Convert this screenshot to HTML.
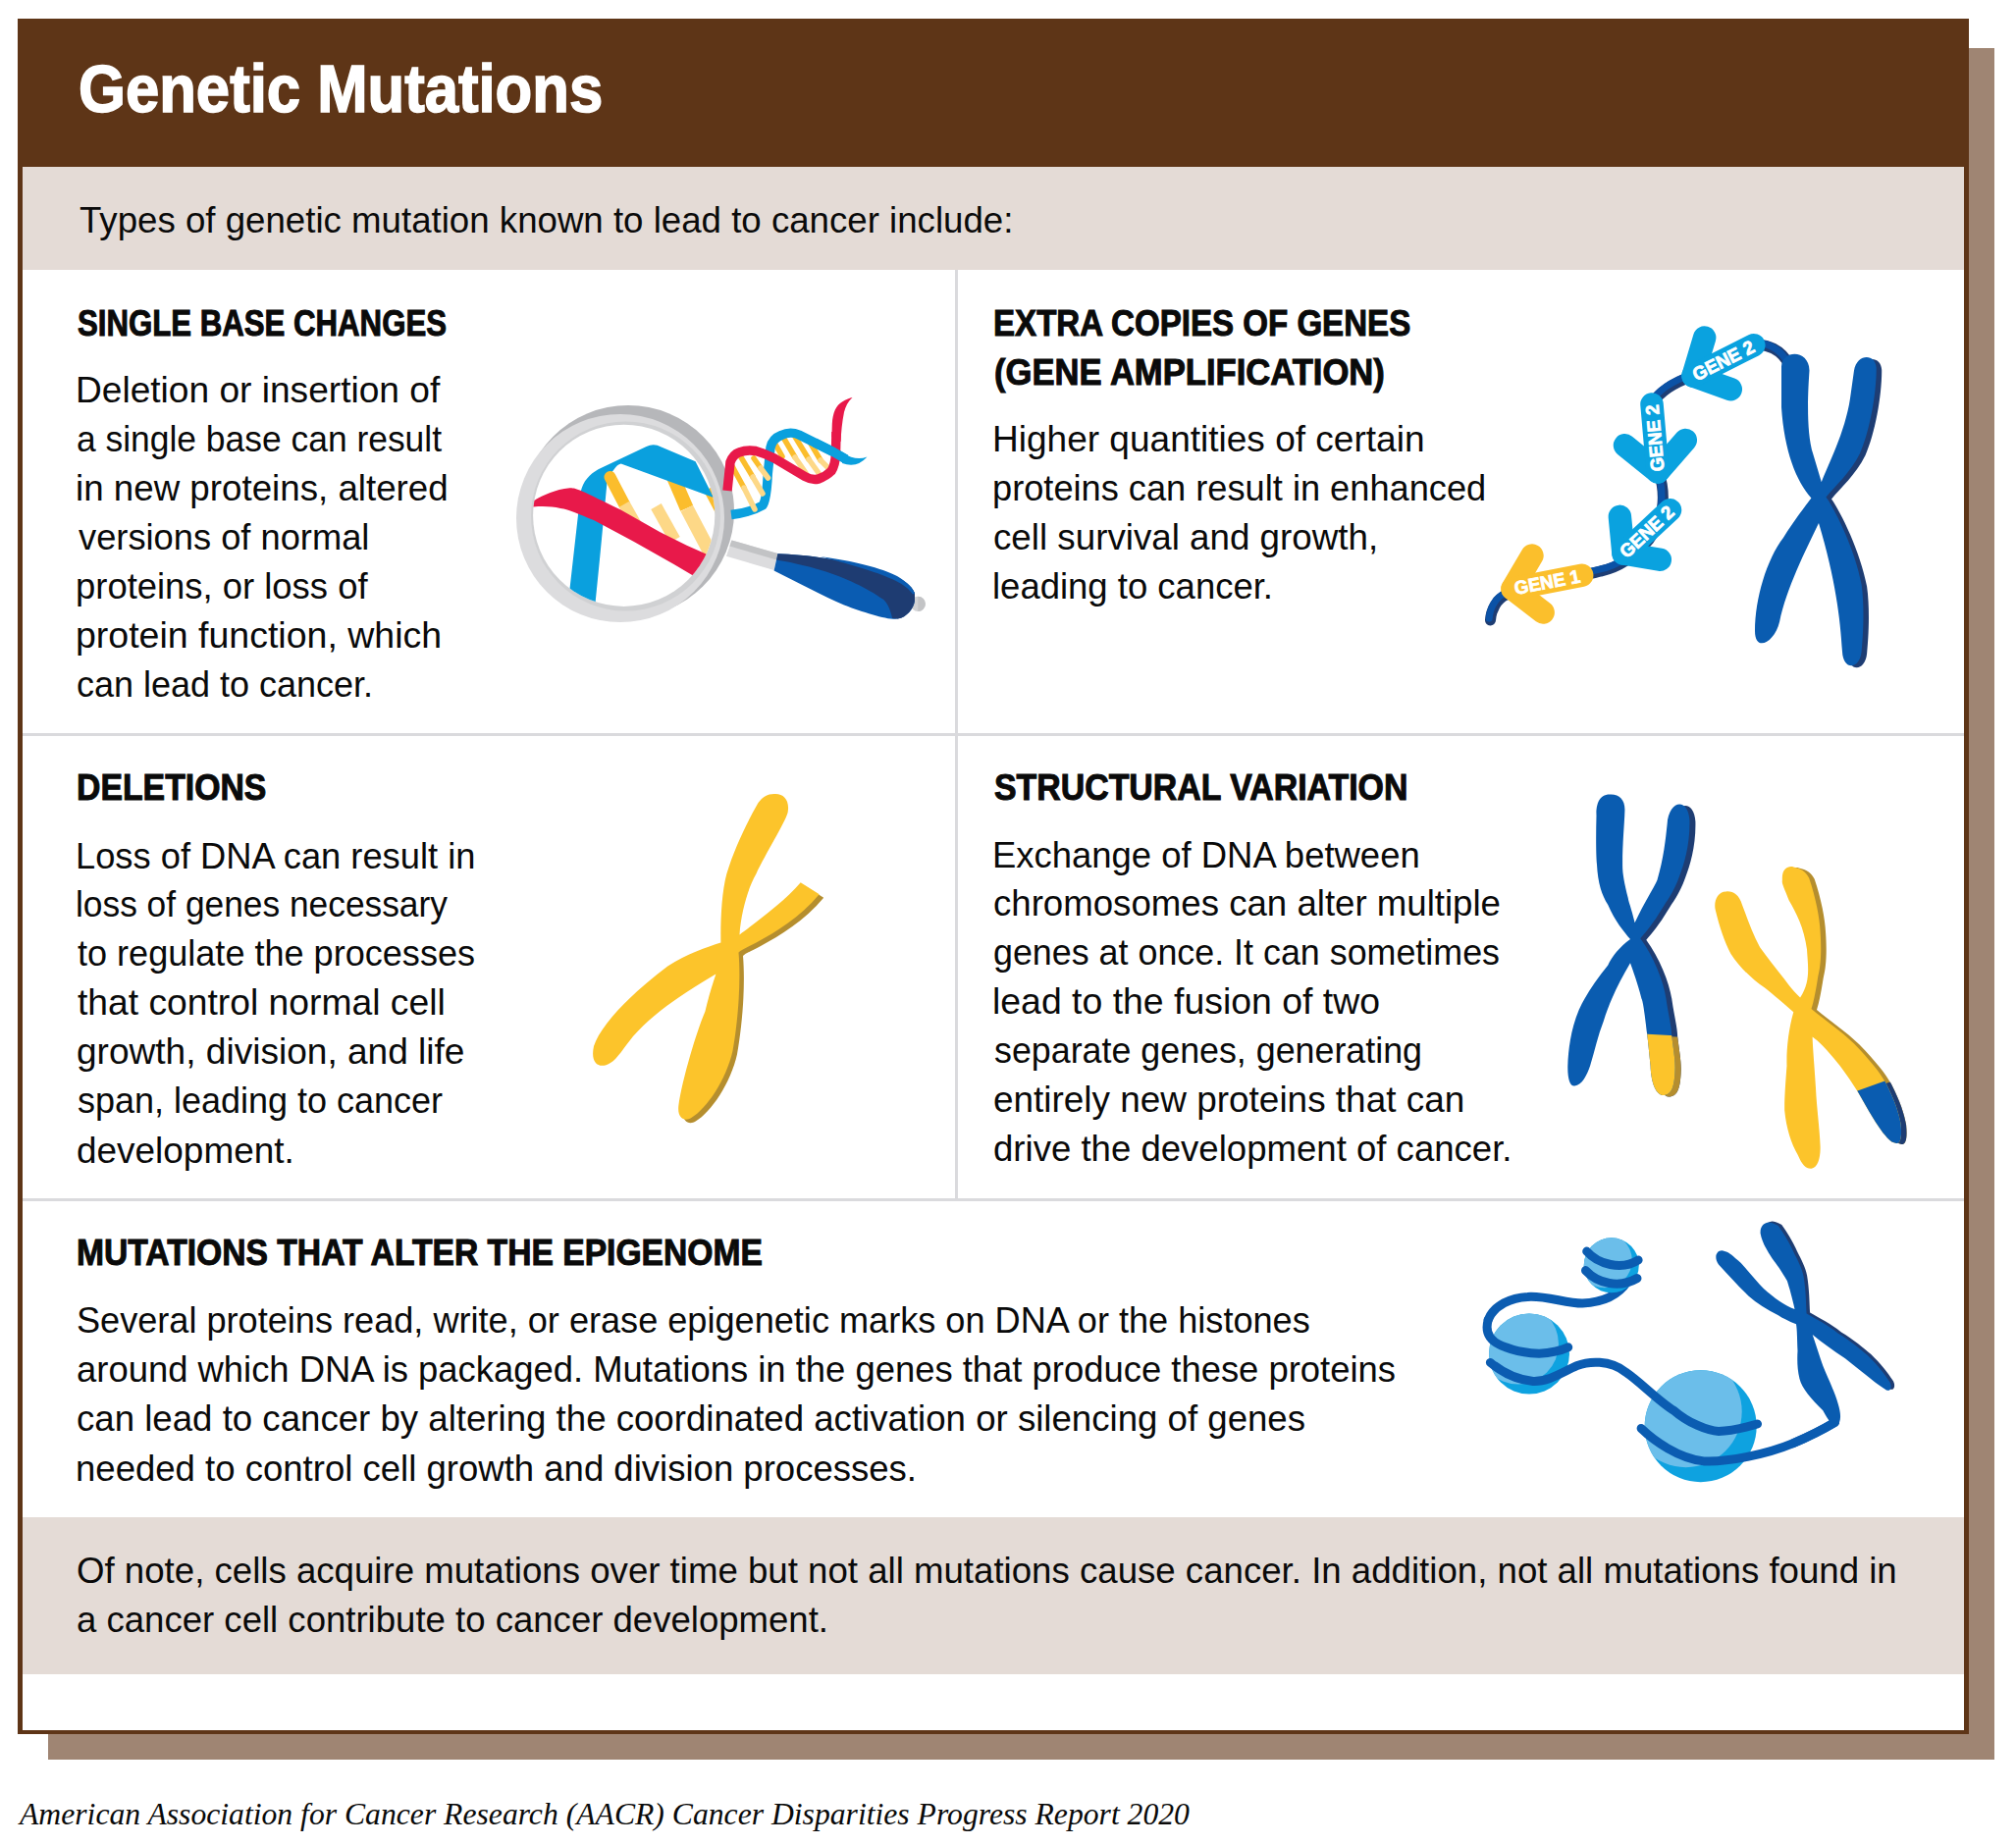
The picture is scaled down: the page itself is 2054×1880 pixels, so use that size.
<!DOCTYPE html>
<html><head><meta charset="utf-8"><title>Genetic Mutations</title>
<style>
html,body{margin:0;padding:0;background:#fff;}
body{width:2054px;height:1880px;position:relative;overflow:hidden;}
.r{position:absolute;}
.t{position:absolute;white-space:pre;transform-origin:0 0;}
.title{font-family:"Liberation Sans",sans-serif;font-size:69px;line-height:69px;font-weight:700;color:#fff;-webkit-text-stroke:1.6px #fff;}
.head{font-family:"Liberation Sans",sans-serif;font-size:37.5px;line-height:37.5px;font-weight:700;color:#0a0a0a;-webkit-text-stroke:1.0px #0a0a0a;}
.body{font-family:"Liberation Sans",sans-serif;font-size:37px;line-height:37px;font-weight:400;color:#0a0a0a;}
.cap{font-family:"Liberation Serif",serif;font-size:31.5px;line-height:31.5px;font-style:italic;color:#0a0a0a;}
svg{position:absolute;overflow:visible;}
</style></head><body>
<div class="r" style="left:49px;top:49px;width:1983px;height:1744px;background:#9f8573"></div>
<div class="r" style="left:18px;top:19px;width:1988px;height:1748px;background:#5e3517"></div>
<div class="r" style="left:23px;top:170px;width:1978px;height:1593px;background:#fff"></div>
<div class="r" style="left:23px;top:170px;width:1978px;height:105px;background:#e4dbd6"></div>
<div class="r" style="left:23px;top:1546px;width:1978px;height:160px;background:#e4dbd6"></div>
<div class="r" style="left:973px;top:275px;width:3px;height:948px;background:#dadadd"></div>
<div class="r" style="left:23px;top:747px;width:1978px;height:3px;background:#dadadd"></div>
<div class="r" style="left:23px;top:1221px;width:1978px;height:3px;background:#dadadd"></div>
<svg style="left:500px;top:380px" width="460" height="280" viewBox="500 380 460 280">
<defs><clipPath id="inner"><circle cx="635.7" cy="525.3" r="92.6"/></clipPath></defs>
<path d="M745.5 550.4 L792.4 564 L788.6 580.9 L740 566.7 Z" fill="#dcdcde"/>
<path d="M745.5 550.4 L792.4 564 L791.3 570.6 L743.3 556.4 Z" fill="#c2c3c5"/>
<circle cx="935.3" cy="615.3" r="7.6" fill="#d2d3d5"/>
<path d="M935.3 607.7 A7.6 7.6 0 0 1 935.3 622.9 Z" fill="#c3c4c6"/>
<path d="M792.4 564.2 C820 565 860 570 898.2 581.5 C915 587 930 596 932 605 L932 612 C931 620 924 629 914.6 630.6 C905 632 880 624 860 616.4 C840 608 810 592 788.6 581.5 Z" fill="#0a5cb2"/>
<path d="M792.4 564.2 C820 565 860 570 898.2 581.5 C915 587 930 596 932 605 L932 612 C931 620 924 629 914.6 630.6 L909.1 630 C907 620 903 612 898.2 609.8 C885 600 860 588 838.2 581.5 C820 576 800 572 791.3 570.6 Z" fill="#1e3c72"/>
<path d="M836 567.3 C870 571.5 898 579 914 587 C924 593 930 599 932 605 L930 605.5 C926 600 921 596 912 591.5 C896 584 872 576.5 836 567.3 Z" fill="#0a5cb2"/>
<circle cx="640" cy="521" r="108" fill="#b6b7ba"/>
<circle cx="632" cy="528" r="106" fill="#dcdcde"/>
<circle cx="637.5" cy="526" r="96.5" fill="#d0d1d3"/>
<circle cx="635.7" cy="525.3" r="92.6" fill="#fff"/>
<g clip-path="url(#inner)">
 <path d="M679 470 L699.7 517.9" stroke="#fbbd2c" stroke-width="14"/>
 <path d="M722 498 L738 528" stroke="#fbbd2c" stroke-width="11"/>
 <path d="M576 640 L591.6 501.4 C594 490 601 483 609.5 478.2 L658.6 455 Q666 451.5 673.75 455.4 L708.6 470.2 L745 543 L745 513.5 L632.7 472.4 Q628.5 473.5 626.4 477.3 Q620 485 618.4 492.5 L611 570 L604 640 Z" fill="#0aa0de"/>
 <path d="M621.5 486 L636 513.8" stroke="#fbbd2c" stroke-width="12" stroke-linecap="round"/>
 <path d="M636 513.8 L648 535" stroke="#fdd887" stroke-width="12"/>
 <path d="M668.5 516 L687.5 550" stroke="#fdd887" stroke-width="12"/>
 <path d="M699.7 517.9 L725 566" stroke="#fdd887" stroke-width="14"/>
 <path d="M530 512 L544.5 509.8 C555 504 565 499 580.5 497.3 C588 497 594 501 632 519.2 L672.6 542.3 L699.7 555.8 L725 567 L712 590 L686.2 574.8 L645.5 551.8 L604.9 530 C590 524 580 519 571 517.9 C560 516 552 515 530 518 Z" fill="#e8194a"/>
</g>
<g>
 <path d="M789 451 L797 465" stroke="#fbbd2c" stroke-width="5.5" stroke-linecap="round"/>
 <path d="M796.5 443 L810 466" stroke="#fbbd2c" stroke-width="5.5" stroke-linecap="round"/>
 <path d="M810 466 L821 482" stroke="#fdd887" stroke-width="5.5" stroke-linecap="round"/>
 <path d="M810 445 L824 468" stroke="#fbbd2c" stroke-width="5.5" stroke-linecap="round"/>
 <path d="M824 468 L834 482" stroke="#fdd887" stroke-width="5.5" stroke-linecap="round"/>
 <path d="M826 452 L836 469" stroke="#fbbd2c" stroke-width="5.5" stroke-linecap="round"/>
 <path d="M836 469 L844 477" stroke="#fdd887" stroke-width="5.5" stroke-linecap="round"/>
 <path d="M745 524.5 Q765 522 777 515 Q781 510 782.3 482.7 L785 456 Q787 447 796 443.5 Q805 439 814 443 L848 460 Q855 464 862 468" fill="none" stroke="#0aa0de" stroke-width="9.4" stroke-linejoin="round"/>
 <path d="M746 475 L758 497" stroke="#fbbd2c" stroke-width="5.5" stroke-linecap="round"/>
 <path d="M758 497 L769 519" stroke="#fdd887" stroke-width="5.5" stroke-linecap="round"/>
 <path d="M755 466 L767 486" stroke="#fbbd2c" stroke-width="5.5" stroke-linecap="round"/>
 <path d="M767 486 L777 503" stroke="#fdd887" stroke-width="5.5" stroke-linecap="round"/>
 <path d="M768 467 L775 477" stroke="#fbbd2c" stroke-width="5.5" stroke-linecap="round"/>
 <path d="M775 477 L782.5 487" stroke="#fdd887" stroke-width="5.5" stroke-linecap="round"/>
 <path d="M741 500 L744 471 Q747 463 753 461 Q761 458 770 459.5 Q779 462 789 467 L820 485.5 Q827 489.5 834 488 Q842 485 847 480 Q851 474 851.5 462 L852 440" fill="none" stroke="#e8194a" stroke-width="9.5" stroke-linejoin="round"/>
 <path d="M847.4 445 L847.8 432 C848.5 420 852 413 858 409.5 C862 407 866 405.5 868.5 405 C864 409 861.5 414 860 420 C858 430 857 440 856.6 450 Z" fill="#e8194a"/>
 <path d="M830 451 L848 460 Q855 464 862 468" fill="none" stroke="#0aa0de" stroke-width="9.4"/>
 <path d="M859 461.8 Q872 470 883.5 465.5 Q873 477.5 858 471.9 Z" fill="#0aa0de"/>
</g>
</svg>

<svg style="left:1500px;top:320px" width="440" height="370" viewBox="1500 320 440 370"><path d="M1518.5 632 C1519 622 1525 610 1535 606 C1555 598 1600 590 1631 582 C1650 578 1665 568 1680 550 C1695 530 1698 505 1690 481 M1683 412 C1690 400 1705 390 1725 383 M1786.8 351.7 C1800 350 1815 356 1823 372" fill="none" stroke="#1e3d73" stroke-width="11" stroke-linecap="round"/><path d="M1518.5 632 C1519 622 1525 610 1535 606 C1555 598 1600 590 1631 582 C1650 578 1665 568 1680 550 C1695 530 1698 505 1690 481 M1683 412 C1690 400 1705 390 1725 383 M1786.8 351.7 C1800 350 1815 356 1823 372" fill="none" stroke="#0b52a6" stroke-width="7" stroke-linecap="round" transform="translate(-1.3 -1.8)"/><path d="M1855.8 491.2 C1862 475 1880 440 1885 406 L1889 377.4 C1892 360 1911 360 1911.7 375 C1912 400 1905 440 1895 462 C1885 482 1870 495 1860.5 506.4 C1870 520 1890 560 1896.6 595.6 C1900 620 1898 650 1896.6 664 C1895 682 1878 684 1877 664 C1875 630 1870 590 1853 533 L1845.4 507.4 Z" fill="#1e3d73" transform="translate(5.5 2)"/><path d="M1815 373.6 C1816 356 1843 356 1843.5 377.4 C1842 400 1840 440 1847.3 462.8 L1855.8 491.2 C1862 475 1880 440 1885 406 L1889 377.4 C1892 360 1911 360 1911.7 375 C1912 400 1905 440 1895 462 C1885 482 1870 495 1860.5 506.4 C1870 520 1890 560 1896.6 595.6 C1900 620 1898 650 1896.6 664 C1895 682 1878 684 1877 664 C1875 630 1870 590 1853 533 C1840 560 1820 600 1813.1 633.5 C1808 655 1788 665 1788 643 C1788 610 1800 570 1816.9 548 C1828 530 1840 515 1845.4 507.4 C1830 490 1818 460 1815 415 Z" fill="#0a5cb0"/><g transform="translate(1541 600) rotate(-10.97)"><path d="M26 -29.5 L0 0 L26 29.5" fill="none" stroke="#fbbf2c" stroke-width="23.5" stroke-linecap="round" stroke-linejoin="round"/><path d="M0 0 L72.0 0" stroke="#fbbf2c" stroke-width="23.5" stroke-linecap="round"/><text x="2.0" y="6.6" textLength="68" lengthAdjust="spacingAndGlyphs" font-family="Liberation Sans" font-weight="700" font-size="19" fill="#fff" stroke="#fff" stroke-width="0.8">GENE 1</text></g><g transform="translate(1654 564) rotate(-43.00)"><path d="M23 -30 L0 0 L23 30" fill="none" stroke="#0aa2df" stroke-width="23.5" stroke-linecap="round" stroke-linejoin="round"/><path d="M0 0 L65.0 0" stroke="#0aa2df" stroke-width="23.5" stroke-linecap="round"/><text x="-1.5" y="6.6" textLength="68" lengthAdjust="spacingAndGlyphs" font-family="Liberation Sans" font-weight="700" font-size="19" fill="#fff" stroke="#fff" stroke-width="0.8">GENE 2</text></g><g transform="translate(1689 481) rotate(-94.97)"><path d="M30 -31 L0 0 L30 31" fill="none" stroke="#0aa2df" stroke-width="23.5" stroke-linecap="round" stroke-linejoin="round"/><path d="M0 0 L69.3 0" stroke="#0aa2df" stroke-width="23.5" stroke-linecap="round"/><text x="0.6" y="6.6" textLength="68" lengthAdjust="spacingAndGlyphs" font-family="Liberation Sans" font-weight="700" font-size="19" fill="#fff" stroke="#fff" stroke-width="0.8">GENE 2</text></g><g transform="translate(1725 383) rotate(-26.86)"><path d="M28 -29.5 L0 0 L28 29.5" fill="none" stroke="#0aa2df" stroke-width="23.5" stroke-linecap="round" stroke-linejoin="round"/><path d="M0 0 L69.3 0" stroke="#0aa2df" stroke-width="23.5" stroke-linecap="round"/><text x="0.6" y="6.6" textLength="68" lengthAdjust="spacingAndGlyphs" font-family="Liberation Sans" font-weight="700" font-size="19" fill="#fff" stroke="#fff" stroke-width="0.8">GENE 2</text></g></svg>
<svg style="left:580px;top:790px" width="280" height="370" viewBox="580 790 280 370">
<path d="M753.5 952.5 C770 940 800 918 815.7 899.3 L834.7 911.3 C815 935 790 950 770.5 960.5 C762 965 755 968 752.5 970.5 C755 1000 752 1040 746.5 1070.8 C740 1100 720 1130 704.3 1139 C698 1143 690 1140 691.3 1127 C695 1100 710 1050 718.4 1030.7 C722 1015 727 1000 729.4 992.6 L734.4 960.5 Z" fill="#b58e2e" transform="translate(4.5 3.5)"/>
<path d="M788.6 809 C798 808 805 815 802.6 828 C800 838 780 870 770.5 890.3 C762 905 755 930 753.5 952.5 C770 940 800 918 815.7 899.3 L834.7 911.3 C815 935 790 950 770.5 960.5 C762 965 755 968 752.5 970.5 C755 1000 752 1040 746.5 1070.8 C740 1100 720 1130 704.3 1139 C698 1143 690 1140 691.3 1127 C695 1100 710 1050 718.4 1030.7 C722 1015 727 1000 729.4 992.6 C700 1010 668 1030 645 1056 C636 1067 629 1079 622 1083 C611 1090 601 1084 605 1066 C612 1045 640 1015 680.3 984.5 C700 972 720 965 734.4 960.5 C734 940 735 910 740.4 890.3 C748 865 760 840 772.5 818 C777 812 782 809 788.6 809 Z" fill="#fcc42b"/>
</svg>

<svg style="left:1570px;top:790px" width="390" height="420" viewBox="1570 790 390 420">
<defs>
<clipPath id="svTipB"><path d="M1665 1053 L1720 1056 L1720 1130 L1665 1130 Z"/></clipPath>
<clipPath id="svTipY"><path d="M1880 1116 L1930 1098 L1990 1200 L1880 1200 Z"/></clipPath>
</defs>
<!-- blue chromosome -->
<g>
<path id="bR" d="M1665.6 940.3 C1675 920 1685 905 1688.4 897 C1695 875 1697 855 1698.6 840 C1700 815 1720 812 1721.4 835.5 C1722 860 1716 880 1711.2 892.5 C1705 910 1698 918 1693 926.6 C1685 940 1677 950 1671.3 956.2 C1685 975 1695 1000 1697.5 1017.7 C1700 1035 1703 1045 1703.2 1055.3 C1705 1070 1707 1080 1706.6 1090 C1706 1110 1702 1116 1694 1116 C1686 1115 1682 1100 1681.6 1086 C1680 1070 1679 1060 1678.2 1054 C1676 1035 1674 1020 1672.5 1017.7 C1668 1000 1664 990 1661 981.3 L1661 957 Z" fill="#1e3d73" transform="translate(6 1.5)"/>
<path d="M1665.6 940.3 C1675 920 1685 905 1688.4 897 C1695 875 1697 855 1698.6 840 C1700 815 1720 812 1721.4 835.5 C1722 860 1716 880 1711.2 892.5 C1705 910 1698 918 1693 926.6 C1685 940 1677 950 1671.3 956.2 C1685 975 1695 1000 1697.5 1017.7 C1700 1035 1703 1045 1703.2 1055.3 C1705 1070 1707 1080 1706.6 1090 C1706 1110 1702 1116 1694 1116 C1686 1115 1682 1100 1681.6 1086 C1680 1070 1679 1060 1678.2 1054 C1676 1035 1674 1020 1672.5 1017.7 C1668 1000 1664 990 1661 981.3 L1661 957 Z" fill="#b58e2e" transform="translate(6 1.5)" clip-path="url(#svTipB)"/>
<path d="M1640.6 809.4 C1628 809 1626 822 1626.5 831 C1626 850 1626 870 1627 881 C1628 900 1632 912 1638.3 922 C1645 938 1655 950 1661 957 C1650 965 1642 975 1638.3 983.5 C1625 1000 1615 1015 1608.7 1029 C1600 1050 1598 1070 1597.3 1086 C1597 1100 1600 1107 1604.2 1106.5 C1612 1106 1617 1095 1620.1 1086 C1625 1070 1628 1055 1633.8 1040.5 C1640 1020 1650 1000 1661 981.3 C1664 990 1668 1000 1672.5 1017.7 C1674 1020 1676 1035 1678.2 1054 C1679 1060 1680 1070 1681.6 1086 C1682 1100 1686 1115 1694 1116 C1702 1116 1706 1110 1706.6 1090 C1707 1080 1705 1070 1703.2 1055.3 C1703 1045 1700 1035 1697.5 1017.7 C1695 1000 1685 975 1671.3 956.2 C1677 950 1685 940 1693 926.6 C1698 918 1705 910 1711.2 892.5 C1716 880 1722 860 1721.4 835.5 C1720 812 1700 815 1698.6 840 C1697 855 1695 875 1688.4 897 C1685 905 1675 920 1665.6 940.3 C1662 925 1659 918 1658.8 915.2 C1655 900 1653 890 1653.1 881 C1653 860 1655 840 1655.4 826.4 C1656 815 1650 809 1640.6 809.4 Z" fill="#0a5cb0"/>
<path d="M1640.6 809.4 C1628 809 1626 822 1626.5 831 C1626 850 1626 870 1627 881 C1628 900 1632 912 1638.3 922 C1645 938 1655 950 1661 957 C1650 965 1642 975 1638.3 983.5 C1625 1000 1615 1015 1608.7 1029 C1600 1050 1598 1070 1597.3 1086 C1597 1100 1600 1107 1604.2 1106.5 C1612 1106 1617 1095 1620.1 1086 C1625 1070 1628 1055 1633.8 1040.5 C1640 1020 1650 1000 1661 981.3 C1664 990 1668 1000 1672.5 1017.7 C1674 1020 1676 1035 1678.2 1054 C1679 1060 1680 1070 1681.6 1086 C1682 1100 1686 1115 1694 1116 C1702 1116 1706 1110 1706.6 1090 C1707 1080 1705 1070 1703.2 1055.3 C1703 1045 1700 1035 1697.5 1017.7 C1695 1000 1685 975 1671.3 956.2 Z" fill="#fcc42b" clip-path="url(#svTipB)"/>
</g>
<!-- yellow chromosome -->
<g>
<path d="M1834.1 1016.5 C1845 1000 1842 985 1841 967.6 C1838 945 1830 930 1822.7 917.5 C1818 905 1815 900 1815.9 897 C1815 885 1822 882 1827.3 883.4 C1835 885 1840 888 1843.2 894.7 C1850 915 1854 935 1854.6 949.4 C1856 970 1855 985 1852.3 995 C1850 1010 1848 1020 1845.5 1028 C1860 1040 1875 1050 1888.8 1063.2 C1905 1080 1915 1092 1921.8 1104.2 C1930 1120 1935 1135 1936.6 1145.2 C1938 1160 1936 1165 1932 1165 C1925 1164 1922 1158 1918.4 1154.3 C1908 1140 1900 1125 1893.3 1113.3 C1885 1100 1878 1090 1872.8 1083.7 C1862 1070 1852 1060 1846.6 1056.4 L1827.3 1031.3 Z" fill="#b58e2e" transform="translate(5.5 1)"/>
<path d="M1834.1 1016.5 C1845 1000 1842 985 1841 967.6 C1838 945 1830 930 1822.7 917.5 C1818 905 1815 900 1815.9 897 C1815 885 1822 882 1827.3 883.4 C1835 885 1840 888 1843.2 894.7 C1850 915 1854 935 1854.6 949.4 C1856 970 1855 985 1852.3 995 C1850 1010 1848 1020 1845.5 1028 C1860 1040 1875 1050 1888.8 1063.2 C1905 1080 1915 1092 1921.8 1104.2 C1930 1120 1935 1135 1936.6 1145.2 C1938 1160 1936 1165 1932 1165 C1925 1164 1922 1158 1918.4 1154.3 C1908 1140 1900 1125 1893.3 1113.3 C1885 1100 1878 1090 1872.8 1083.7 C1862 1070 1852 1060 1846.6 1056.4 L1827.3 1031.3 Z" fill="#1e3d73" transform="translate(5.5 1)" clip-path="url(#svTipY)"/>
<path d="M1759 908.4 C1750 908 1746 918 1747.6 926.6 C1752 945 1757 960 1763.5 972 C1772 985 1785 998 1797.7 1006.3 C1810 1016 1820 1025 1827.3 1031.3 C1822 1050 1820 1070 1820.5 1086 C1819 1105 1818 1120 1818.2 1131.5 C1820 1150 1825 1165 1831.8 1177 C1836 1187 1840 1191 1845.5 1190.7 C1852 1190 1855 1180 1854.6 1168 C1854 1150 1851 1130 1850 1108.8 C1849 1090 1847 1070 1846.6 1056.4 C1852 1060 1862 1070 1872.8 1083.7 C1878 1090 1885 1100 1893.3 1113.3 C1900 1125 1908 1140 1918.4 1154.3 C1922 1158 1925 1164 1932 1165 C1936 1165 1938 1160 1936.6 1145.2 C1935 1135 1930 1120 1921.8 1104.2 C1915 1092 1905 1080 1888.8 1063.2 C1875 1050 1860 1040 1845.5 1028 C1848 1020 1850 1010 1852.3 995 C1855 985 1856 970 1854.6 949.4 C1854 935 1850 915 1843.2 894.7 C1840 888 1835 885 1827.3 883.4 C1822 882 1815 885 1815.9 897 C1815 900 1818 905 1822.7 917.5 C1830 930 1838 945 1841 967.6 C1842 985 1845 1000 1834.1 1016.5 C1825 1008 1820 1000 1815.9 995 C1808 985 1800 975 1793.1 965.3 C1785 950 1780 935 1775 922 C1772 912 1766 908 1759 908.4 Z" fill="#fcc42b"/>
<path d="M1846.6 1056.4 C1852 1060 1862 1070 1872.8 1083.7 C1878 1090 1885 1100 1893.3 1113.3 C1900 1125 1908 1140 1918.4 1154.3 C1922 1158 1925 1164 1932 1165 C1936 1165 1938 1160 1936.6 1145.2 C1935 1135 1930 1120 1921.8 1104.2 C1915 1092 1905 1080 1888.8 1063.2 C1875 1050 1860 1040 1845.5 1028 Z" fill="#0a5cb0" clip-path="url(#svTipY)"/>
</g>
</svg>

<svg style="left:1490px;top:1230px" width="460" height="300" viewBox="1490 1230 460 300">
<defs>
<clipPath id="ballS"><circle cx="1641.8" cy="1289.3" r="28"/></clipPath>
<clipPath id="ballM"><circle cx="1558" cy="1379.5" r="41"/></clipPath>
<clipPath id="ballL"><circle cx="1732.7" cy="1453.2" r="57"/></clipPath>
</defs>
<g fill="none" stroke="#0b5cb1" stroke-width="9" stroke-linecap="round">
<path d="M1658 1306 C1650 1318 1635 1327 1612.2 1328 C1595 1328 1575 1320 1556.4 1321.4 C1540 1322 1522 1330 1516.2 1344.9"/>
<path d="M1869.4 1449.4 C1860 1455 1845 1463 1827 1470.7"/>
</g>
<circle cx="1641.8" cy="1289.3" r="28" fill="#0ea2e0"/>
<circle cx="1634.8" cy="1284.3" r="28" fill="#6bbeea" clip-path="url(#ballS)"/>
<circle cx="1558" cy="1379.5" r="41" fill="#0ea2e0"/>
<circle cx="1547" cy="1369.5" r="41" fill="#6bbeea" clip-path="url(#ballM)"/>
<circle cx="1732.7" cy="1453.2" r="57" fill="#0ea2e0"/>
<circle cx="1717.7" cy="1438.2" r="57" fill="#6bbeea" clip-path="url(#ballL)"/>
<g fill="none" stroke="#0b5cb1" stroke-width="9" stroke-linecap="round">
<path d="M1616.7 1275.1 C1628 1288 1652 1295 1669.1 1284"/>
<path d="M1615.5 1294.6 C1628 1308 1650 1313 1668 1302.5"/>
<path d="M1516.2 1344.9 C1512 1360 1520 1368 1534 1372.8 C1550 1379 1570 1381 1584.3 1377.2 C1590 1376 1595 1374 1597.7 1372.8"/>
<path d="M1518.4 1388.4 C1530 1398 1545 1406 1562 1407.4 C1578 1408 1592 1398 1606.6 1391.7 C1618 1387 1640 1385 1656.8 1398.4 C1670 1407 1690 1428 1705.5 1437.3 C1720 1450 1740 1458 1751 1458.5 C1765 1458 1780 1454 1790.5 1451"/>
<path d="M1672.1 1455.5 C1685 1468 1710 1486 1735.9 1488.9 C1760 1490 1800 1482 1827 1470.7 C1845 1463 1860 1455 1869.4 1449.4"/>
</g>
<path d="M1828.5 1334.1 C1826 1322 1823 1312 1820.9 1305.3 C1815 1295 1810 1288 1805.7 1282.5 C1800 1274 1795 1265 1793.6 1256.7 C1793 1248 1800 1244 1805 1246 C1808 1247 1810 1248 1811.8 1249.1 C1818 1258 1823 1266 1827 1274.9 C1832 1285 1836 1292 1837.6 1300.7 C1840 1315 1840 1328 1840.6 1338.6 C1850 1344 1862 1350 1872.5 1358.4 C1885 1366 1895 1374 1902.8 1381.1 C1912 1390 1920 1400 1925.6 1408.5 C1928 1414 1926 1418 1922 1416.5 C1918 1414 1914 1411 1910.4 1408.5 C1900 1400 1890 1392 1880 1384.2 C1868 1376 1856 1368 1846.7 1359.9 L1830 1349.3 Z" fill="#1e3d73" transform="translate(3.5 -1)"/>
<path d="M1751 1288.6 C1745 1280 1750 1272 1757.1 1274.9 C1762 1276 1766 1280 1773.8 1287 C1782 1296 1790 1306 1796.6 1312.8 C1808 1323 1818 1330 1828.5 1334.1 C1826 1322 1823 1312 1820.9 1305.3 C1815 1295 1810 1288 1805.7 1282.5 C1800 1274 1795 1265 1793.6 1256.7 C1793 1248 1800 1244 1805 1246 C1808 1247 1810 1248 1811.8 1249.1 C1818 1258 1823 1266 1827 1274.9 C1832 1285 1836 1292 1837.6 1300.7 C1840 1315 1840 1328 1840.6 1338.6 C1850 1344 1862 1350 1872.5 1358.4 C1885 1366 1895 1374 1902.8 1381.1 C1912 1390 1920 1400 1925.6 1408.5 C1928 1414 1926 1418 1922 1416.5 C1918 1414 1914 1411 1910.4 1408.5 C1900 1400 1890 1392 1880 1384.2 C1868 1376 1856 1368 1846.7 1359.9 C1850 1370 1854 1382 1857.3 1391.8 C1864 1408 1870 1420 1872.5 1429.7 C1875 1438 1876 1444 1874 1449.4 C1872 1454 1869 1454 1866 1451 C1862 1446 1860 1442 1857.3 1437.3 C1845 1425 1836 1415 1833.5 1405 C1831 1395 1831 1385 1831.5 1376.6 C1831 1365 1831 1355 1830 1349.3 C1822 1346 1816 1343 1811.8 1340.2 C1800 1334 1790 1328 1781.4 1320.4 C1770 1310 1760 1298 1751 1288.6 Z" fill="#0a5cb0"/>
</svg>

<div class="t title" style="left:79.8px;top:55.59px;transform:scaleX(0.8932)">Genetic Mutations</div>
<div class="t body" style="left:80.8px;top:206.18px;transform:scaleX(0.9905)">Types of genetic mutation known to lead to cancer include:</div>
<div class="t head" style="left:79.0px;top:311.26px;transform:scaleX(0.8316)">SINGLE BASE CHANGES</div>
<div class="t body" style="left:77.0px;top:379.38px;transform:scaleX(1.0027)">Deletion or insertion of</div>
<div class="t body" style="left:78.0px;top:429.48px;transform:scaleX(0.9569)">a single base can result</div>
<div class="t body" style="left:77.0px;top:479.38px;transform:scaleX(0.9925)">in new proteins, altered</div>
<div class="t body" style="left:80.0px;top:529.48px;transform:scaleX(0.9805)">versions of normal</div>
<div class="t body" style="left:77.0px;top:579.18px;transform:scaleX(0.9841)">proteins, or loss of</div>
<div class="t body" style="left:77.0px;top:629.38px;transform:scaleX(1.0134)">protein function, which</div>
<div class="t body" style="left:78.0px;top:679.48px;transform:scaleX(0.9723)">can lead to cancer.</div>
<div class="t head" style="left:1012.0px;top:311.26px;transform:scaleX(0.8821)">EXTRA COPIES OF GENES</div>
<div class="t head" style="left:1013.0px;top:360.86px;transform:scaleX(0.9225)">(GENE AMPLIFICATION)</div>
<div class="t body" style="left:1011.0px;top:429.18px;transform:scaleX(1.0008)">Higher quantities of certain</div>
<div class="t body" style="left:1011.0px;top:479.18px;transform:scaleX(0.9785)">proteins can result in enhanced</div>
<div class="t body" style="left:1012.0px;top:528.98px;transform:scaleX(0.9931)">cell survival and growth,</div>
<div class="t body" style="left:1011.0px;top:579.18px;transform:scaleX(0.9860)">leading to cancer.</div>
<div class="t head" style="left:78.0px;top:784.26px;transform:scaleX(0.9012)">DELETIONS</div>
<div class="t body" style="left:77.0px;top:853.68px;transform:scaleX(0.9807)">Loss of DNA can result in</div>
<div class="t body" style="left:77.0px;top:903.38px;transform:scaleX(0.9546)">loss of genes necessary</div>
<div class="t body" style="left:79.0px;top:952.88px;transform:scaleX(0.9748)">to regulate the processes</div>
<div class="t body" style="left:79.0px;top:1003.38px;transform:scaleX(1.0066)">that control normal cell</div>
<div class="t body" style="left:78.0px;top:1053.18px;transform:scaleX(1.0015)">growth, division, and life</div>
<div class="t body" style="left:79.0px;top:1103.48px;transform:scaleX(0.9723)">span, leading to cancer</div>
<div class="t body" style="left:78.0px;top:1153.68px;transform:scaleX(0.9984)">development.</div>
<div class="t head" style="left:1013.0px;top:783.86px;transform:scaleX(0.9030)">STRUCTURAL VARIATION</div>
<div class="t body" style="left:1011.0px;top:853.08px;transform:scaleX(0.9852)">Exchange of DNA between</div>
<div class="t body" style="left:1012.0px;top:902.48px;transform:scaleX(0.9898)">chromosomes can alter multiple</div>
<div class="t body" style="left:1012.0px;top:952.48px;transform:scaleX(0.9687)">genes at once. It can sometimes</div>
<div class="t body" style="left:1011.0px;top:1002.48px;transform:scaleX(1.0107)">lead to the fusion of two</div>
<div class="t body" style="left:1013.0px;top:1052.28px;transform:scaleX(0.9678)">separate genes, generating</div>
<div class="t body" style="left:1012.0px;top:1102.28px;transform:scaleX(0.9978)">entirely new proteins that can</div>
<div class="t body" style="left:1012.0px;top:1152.28px;transform:scaleX(0.9883)">drive the development of cancer.</div>
<div class="t head" style="left:78.0px;top:1257.56px;transform:scaleX(0.8971)">MUTATIONS THAT ALTER THE EPIGENOME</div>
<div class="t body" style="left:78.0px;top:1327.18px;transform:scaleX(0.9762)">Several proteins read, write, or erase epigenetic marks on DNA or the histones</div>
<div class="t body" style="left:78.0px;top:1377.18px;transform:scaleX(0.9841)">around which DNA is packaged. Mutations in the genes that produce these proteins</div>
<div class="t body" style="left:78.0px;top:1427.18px;transform:scaleX(0.9898)">can lead to cancer by altering the coordinated activation or silencing of genes</div>
<div class="t body" style="left:77.0px;top:1477.68px;transform:scaleX(0.9874)">needed to control cell growth and division processes.</div>
<div class="t body" style="left:78.0px;top:1581.68px;transform:scaleX(0.9899)">Of note, cells acquire mutations over time but not all mutations cause cancer. In addition, not all mutations found in</div>
<div class="t body" style="left:78.0px;top:1632.38px;transform:scaleX(0.9879)">a cancer cell contribute to cancer development.</div>
<div class="t cap" style="left:19.5px;top:1832.62px;transform:scaleX(1.0052)">American Association for Cancer Research (AACR) Cancer Disparities Progress Report 2020</div>
</body></html>
